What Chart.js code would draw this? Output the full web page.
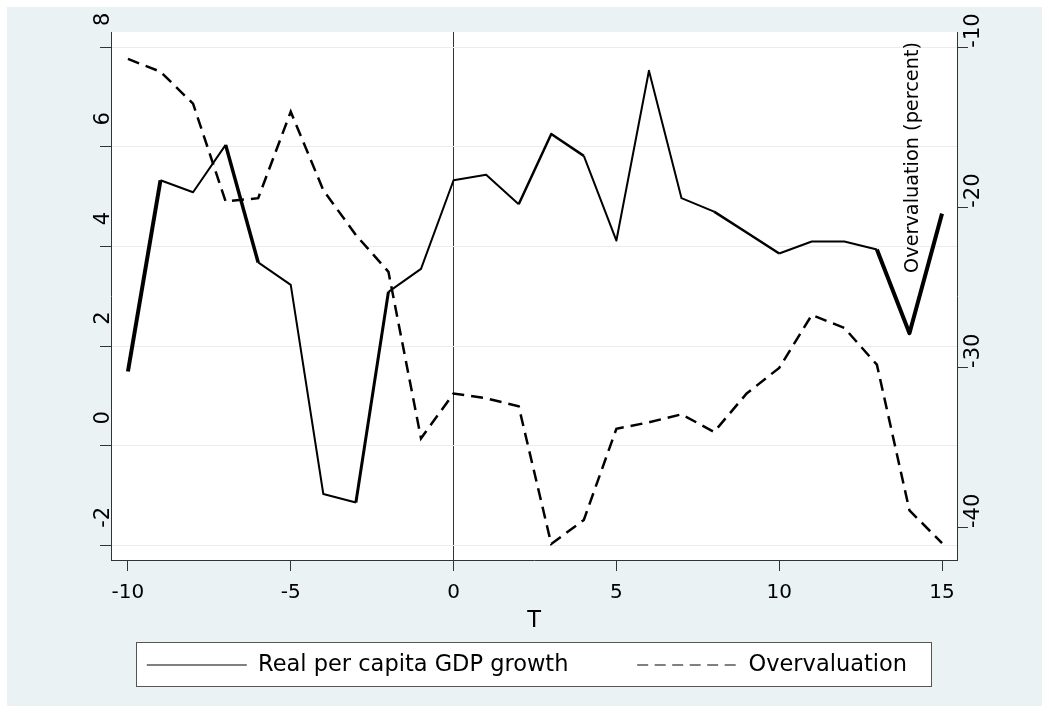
<!DOCTYPE html>
<html>
<head>
<meta charset="utf-8">
<script src="https://cdn.jsdelivr.net/npm/chart.js@4"></script>
<style>
  html, body { margin: 0; padding: 0; background: #ffffff; }
  #c { display: block; width: 1049px; height: 713px; }
</style>
</head>
<body>
<canvas id="c" width="1049" height="713"></canvas>
<script>
// Event time T (years relative to the episode)
const periods = [-10, -9, -8, -7, -6, -5, -4, -3, -2, -1, 0, 1, 2, 3, 4, 5, 6, 7, 8, 9, 10, 11, 12, 13, 14, 15];

// Real per capita GDP growth (left axis)
const gdpGrowth = [1.49, 5.33, 5.09, 6.04, 3.68, 3.23, -0.97, -1.14, 3.09, 3.55,
                   5.33, 5.44, 4.85, 6.26, 5.82, 4.12, 7.53, 4.97, 4.70, 4.28,
                   3.86, 4.10, 4.10, 3.94, 2.26, 4.66];

// Overvaluation in percent (right axis)
const overvaluation = [-10.7, -11.5, -13.5, -19.6, -19.4, -14.0, -18.9, -21.7, -24.0, -34.4,
                       -31.6, -31.9, -32.4, -41.0, -39.5, -33.8, -33.4, -32.9, -34.0, -31.6,
                       -30.0, -26.7, -27.5, -29.8, -38.9, -40.95];

// Tick labels
const xTicks = [-10, -5, 0, 5, 10, 15];
const leftTicks = [-2, 0, 2, 4, 6, 8];
const rightTicks = [-40, -30, -20, -10];

// Stroke width of each growth segment (index = segment start)
const gdpSegmentWidths = [4, 2, 2, 3.5, 2, 2, 2, 3, 2, 2, 2, 2, 2.5, 2.5, 2, 2, 2, 2, 2.5, 2.5, 2, 2, 2, 4, 4];

const FONT = "'DejaVu Sans', sans-serif";
Chart.defaults.font.family = FONT;
Chart.defaults.color = '#000';

const frame = {
  id: 'frame',
  beforeDraw(chart) {
    const { ctx, chartArea: a } = chart;
    ctx.save();
    ctx.fillStyle = '#ffffff';
    ctx.fillRect(0, 0, chart.width, chart.height);
    ctx.fillStyle = '#eaf2f3';
    ctx.fillRect(7, 7, chart.width - 14, chart.height - 14);
    ctx.fillStyle = '#ffffff';
    ctx.fillRect(a.left, a.top, a.right - a.left, a.bottom - a.top);
    const hb = chart.legend && chart.legend.legendHitBoxes;
    if (hb && hb.length) {
      const first = hb[0], last = hb[hb.length - 1];
      const x0 = Math.round(first.left - 11) + 0.5;
      const x1 = Math.round(last.left + last.width + 24) + 0.5;
      const y0 = Math.round(first.top - 12) + 0.5;
      const y1 = Math.round(first.top + 32) + 0.5;
      ctx.fillStyle = '#ffffff';
      ctx.fillRect(x0, y0, x1 - x0, y1 - y0);
      ctx.strokeStyle = '#555555';
      ctx.lineWidth = 1;
      ctx.strokeRect(x0, y0, x1 - x0, y1 - y0);
    }
    ctx.restore();
  },
  afterDatasetsDraw(chart) {
    // right-axis title, set just inside the plot region
    const { ctx, chartArea: a } = chart;
    const s = chart.scales.y1;
    ctx.save();
    ctx.translate(s.left - 44, a.top + 10);
    ctx.rotate(-Math.PI / 2);
    ctx.font = '19.3px ' + FONT;
    ctx.fillStyle = '#000';
    ctx.textAlign = 'right';
    ctx.textBaseline = 'middle';
    ctx.fillText('Overvaluation (percent)', 0, 0);
    ctx.restore();
  }
};

const toTicks = arr => arr.map(v => ({ value: v }));

new Chart(document.getElementById('c'), {
  type: 'line',
  data: {
    datasets: [
      {
        label: 'Real per capita GDP growth',
        data: periods.map((t, i) => ({ x: t, y: gdpGrowth[i] })),
        yAxisID: 'y',
        borderColor: '#000',
        borderWidth: 2,
        borderJoinStyle: 'round',
        pointRadius: 0,
        tension: 0,
        segment: { borderWidth: c => gdpSegmentWidths[c.p0DataIndex] }
      },
      {
        label: 'Overvaluation',
        data: periods.map((t, i) => ({ x: t, y: overvaluation[i] })),
        yAxisID: 'y1',
        borderColor: '#000',
        borderWidth: 2.5,
        borderDash: [12, 7],
        pointRadius: 0,
        tension: 0
      }
    ]
  },
  options: {
    responsive: false,
    animation: false,
    devicePixelRatio: 1,
    events: [],
    layout: { padding: { left: 40, right: 35.15, top: 32, bottom: 28 } },
    plugins: {
      tooltip: { enabled: false },
      legend: {
        position: 'bottom',
        maxHeight: 100,
        labels: {
          usePointStyle: true,
          pointStyleWidth: 100,
          padding: 68.75,
          color: '#000',
          font: { size: 22.5 },
          generateLabels: chart => chart.data.datasets.map((ds, i) => ({
            text: ds.label,
            pointStyle: 'line',
            strokeStyle: '#808080',
            fillStyle: 'rgba(0,0,0,0)',
            lineWidth: 2,
            lineDash: i === 1 ? [11, 6.5] : [],
            hidden: false,
            datasetIndex: i,
            fontColor: '#000'
          }))
        }
      }
    },
    scales: {
      x: {
        type: 'linear',
        min: -10.52,
        max: 15.46,
        afterBuildTicks: s => { s.ticks = toTicks(xTicks); },
        afterFit: s => { s.height = 25; },
        grid: {
          color: c => (c.tick && c.tick.value === 0) ? '#333333' : 'rgba(0,0,0,0)',
          tickColor: '#333333',
          tickLength: 11,
          lineWidth: 1
        },
        border: { color: '#333333', width: 1 },
        ticks: { font: { size: 20 }, mirror: true, padding: -45, color: '#000', maxRotation: 0, autoSkip: false },
        title: { display: true, text: 'T', color: '#000', font: { size: 22.5 }, padding: { top: 0, bottom: -50 } }
      },
      y: {
        type: 'linear',
        position: 'left',
        min: -2.295,
        max: 8.307,
        afterBuildTicks: s => { s.ticks = toTicks(leftTicks); },
        afterFit: s => { s.width = 71; },
        grid: { color: '#e8eeee', tickColor: '#333333', tickLength: 11, lineWidth: 1 },
        border: { color: '#333333', width: 1 },
        ticks: { font: { size: 21 }, color: '#000', minRotation: 90, maxRotation: 90,
                 crossAlign: 'center', padding: -14, labelOffset: -28, autoSkip: false }
      },
      y1: {
        type: 'linear',
        position: 'right',
        min: -42.0,
        max: -9.02,
        afterBuildTicks: s => { s.ticks = toTicks(rightTicks); },
        afterFit: s => { s.width = 56.85; },
        grid: { drawOnChartArea: false, tickColor: '#333333', tickLength: 11, lineWidth: 1 },
        border: { color: '#333333', width: 1 },
        ticks: { font: { size: 21 }, color: '#000', minRotation: 90, maxRotation: 90,
                 crossAlign: 'near', padding: 6, labelOffset: 0, autoSkip: false }
      }
    }
  },
  plugins: [frame]
});
</script>
</body>
</html>
